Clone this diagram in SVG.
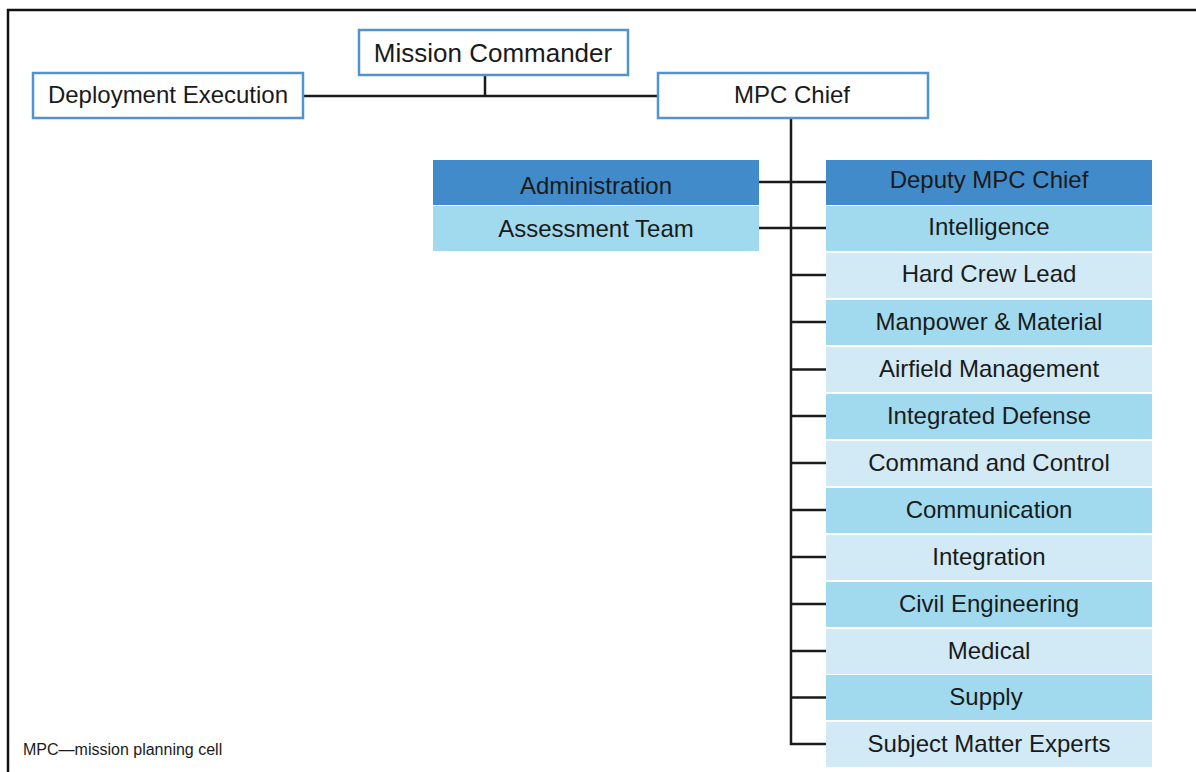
<svg xmlns="http://www.w3.org/2000/svg" width="1196" height="772" viewBox="0 0 1196 772">
<style>
.t{font-family:"Liberation Sans",Arial,sans-serif;font-size:24px;fill:#1a1a1a;text-anchor:middle}
.ob{fill:#fff;stroke:#4f93d2;stroke-width:2.5}
.dk{fill:#428bca}
.md{fill:#a1daee}
.pl{fill:#d2eaf6}
.c{stroke:#1a1a1a;stroke-width:2.5;fill:none}
</style>
<rect width="1196" height="772" fill="#fff"/>
<path d="M8,772 V10 H1196" fill="none" stroke="#111" stroke-width="2.5"/>
<g id="connectors">
<path class="c" d="M303,96 H658"/>
<path class="c" d="M485,75 V96"/>
<path class="c" d="M791,118 V744 H826" stroke-width="3"/>
<path class="c" d="M759,182 H826"/>
<path class="c" d="M759,228 H826"/>
<path class="c" d="M791,275 H826"/>
<path class="c" d="M791,322 H826"/>
<path class="c" d="M791,369.5 H826"/>
<path class="c" d="M791,416 H826"/>
<path class="c" d="M791,463 H826"/>
<path class="c" d="M791,510 H826"/>
<path class="c" d="M791,557 H826"/>
<path class="c" d="M791,604 H826"/>
<path class="c" d="M791,651 H826"/>
<path class="c" d="M791,697.5 H826"/>
</g>
<g id="mission-commander"><rect class="ob" x="359" y="30" width="269" height="45"/><text class="t" x="493" y="62" style="font-size:26px">Mission Commander</text></g>
<g id="deployment-execution"><rect class="ob" x="33" y="73" width="270" height="45"/><text class="t" x="168" y="103">Deployment Execution</text></g>
<g id="mpc-chief"><rect class="ob" x="658" y="73" width="270" height="45"/><text class="t" x="792" y="103">MPC Chief</text></g>
<g id="administration"><rect class="dk" x="433" y="160" width="326" height="45"/><text class="t" x="596" y="194">Administration</text></g>
<g id="assessment-team"><rect class="md" x="433" y="206" width="326" height="45"/><text class="t" x="596" y="237">Assessment Team</text></g>
<g id="deputy-mpc-chief"><rect class="dk" x="826" y="160" width="326" height="45"/><text class="t" x="989" y="188">Deputy MPC Chief</text></g>
<g id="intelligence"><rect class="md" x="826" y="206" width="326" height="45"/><text class="t" x="989" y="235">Intelligence</text></g>
<g id="hard-crew-lead"><rect class="pl" x="826" y="253" width="326" height="45"/><text class="t" x="989" y="282">Hard Crew Lead</text></g>
<g id="manpower-material"><rect class="md" x="826" y="300" width="326" height="45"/><text class="t" x="989" y="330">Manpower &amp; Material</text></g>
<g id="airfield-management"><rect class="pl" x="826" y="347" width="326" height="45"/><text class="t" x="989" y="377">Airfield Management</text></g>
<g id="integrated-defense"><rect class="md" x="826" y="394" width="326" height="45"/><text class="t" x="989" y="424">Integrated Defense</text></g>
<g id="command-and-control"><rect class="pl" x="826" y="441" width="326" height="45"/><text class="t" x="989" y="471">Command and Control</text></g>
<g id="communication"><rect class="md" x="826" y="488" width="326" height="45"/><text class="t" x="989" y="518">Communication</text></g>
<g id="integration"><rect class="pl" x="826" y="535" width="326" height="45"/><text class="t" x="989" y="565">Integration</text></g>
<g id="civil-engineering"><rect class="md" x="826" y="582" width="326" height="45"/><text class="t" x="989" y="612">Civil Engineering</text></g>
<g id="medical"><rect class="pl" x="826" y="629" width="326" height="45"/><text class="t" x="989" y="659">Medical</text></g>
<g id="supply"><rect class="md" x="826" y="675" width="326" height="45"/><text class="t" x="986" y="705">Supply</text></g>
<g id="subject-matter-experts"><rect class="pl" x="826" y="722" width="326" height="45"/><text class="t" x="989" y="752">Subject Matter Experts</text></g>
<text x="23" y="755" style="font-family:'Liberation Sans',Arial,sans-serif;font-size:16px;fill:#1a1a1a">MPC—mission planning cell</text>
</svg>
